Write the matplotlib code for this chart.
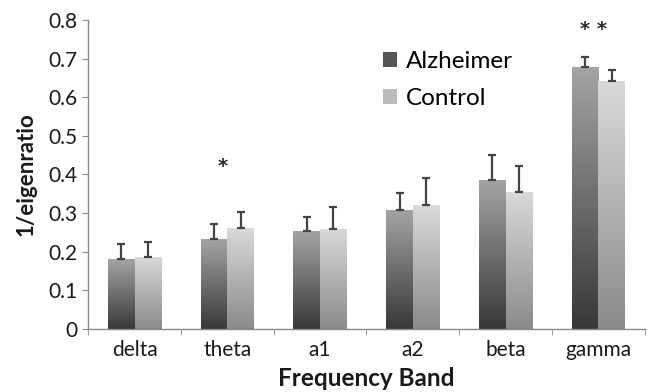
import numpy as np
import matplotlib
matplotlib.use("Agg")
import matplotlib.pyplot as plt
from matplotlib.colors import LinearSegmentedColormap
from matplotlib.ticker import FixedLocator
from matplotlib.patches import Patch

plt.rcParams['font.family'] = ['Lato', 'DejaVu Sans']

bands = ['delta', 'theta', 'a1', 'a2', 'beta', 'gamma']
alz_mean = [0.180, 0.233, 0.253, 0.308, 0.385, 0.677]
alz_err = [0.039, 0.038, 0.037, 0.044, 0.066, 0.026]
ctl_mean = [0.187, 0.261, 0.259, 0.321, 0.355, 0.643]
ctl_err = [0.038, 0.043, 0.057, 0.069, 0.066, 0.028]
star_idx = [1, 5]
star_txt = ['*', '* *']
star_y = [0.42, 0.775]

fig = plt.figure(figsize=(6.48, 3.92), dpi=100)
ax = fig.add_axes([0.136, 0.161, 0.859, 0.788])

x = np.arange(len(bands))
w = 0.287

alz_cmap = LinearSegmentedColormap.from_list('alz', ['#383838', '#a4a4a4'])
ctl_cmap = LinearSegmentedColormap.from_list('ctl', ['#8a8a8a', '#dadada'])
grad = np.linspace(0, 1, 256).reshape(-1, 1)

def gradient_bars(pos, vals, errs, cmap, label):
    bars = ax.bar(pos, vals, w, color='none', edgecolor='none', label=label)
    for b in bars:
        x0 = b.get_x()
        im = ax.imshow(grad, cmap=cmap, origin='lower', aspect='auto',
                       extent=[x0, x0 + b.get_width(), 0, b.get_height()], zorder=2)
        im.set_clip_path(b)
    ax.errorbar(pos, vals, yerr=[np.zeros(len(vals)), errs], fmt='none',
                ecolor='#444444', elinewidth=1.6, capsize=3, capthick=1.6, zorder=3)
    return bars

gradient_bars(x - w / 2, alz_mean, alz_err, alz_cmap, 'Alzheimer')
gradient_bars(x + w / 2, ctl_mean, ctl_err, ctl_cmap, 'Control')

# significance stars
for i, s, yy in zip(star_idx, star_txt, star_y):
    ax.text(x[i] - 0.05, yy, s, ha='center', va='center', fontsize=14,
            fontweight='bold', color='#2a2a2a', family='DejaVu Sans')

ax.set_xlim(-0.5, len(bands) - 0.5)
ax.set_ylim(0, 0.8)
ax.set_yticks(np.arange(0, 0.81, 0.1))
ax.set_yticklabels(['0'] + ['%.1f' % v for v in np.arange(0.1, 0.81, 0.1)])
ax.set_xticks(x)
ax.set_xticklabels(bands)
ax.xaxis.set_minor_locator(FixedLocator(np.arange(-0.5, len(bands), 1.0)))
ax.tick_params(axis='x', which='major', length=0, pad=8, labelsize=15, labelcolor='#1a1a1a')
ax.tick_params(axis='x', which='minor', length=4, color='#888888', direction='out')
ax.tick_params(axis='y', length=4, color='#888888', labelsize=15, labelcolor='#1a1a1a', pad=4)

for sp in ['top', 'right']:
    ax.spines[sp].set_visible(False)
for sp in ['left', 'bottom']:
    ax.spines[sp].set_color('#888888')
    ax.spines[sp].set_linewidth(1.0)

ax.set_xlabel('Frequency Band', fontsize=17.5, fontweight='bold', labelpad=5, color='#1a1a1a')
ax.set_ylabel('1/eigenratio', fontsize=16, fontweight='bold', labelpad=8, color='#1a1a1a')

handles = [Patch(facecolor='#555555'), Patch(facecolor='#bbbbbb')]
ax.legend(handles, ['Alzheimer', 'Control'], loc='upper left',
          bbox_to_anchor=(0.49, 0.97), frameon=False, fontsize=17.5,
          handlelength=0.6, handleheight=0.6, handletextpad=0.35, labelspacing=0.65)

fig.savefig('out.png', dpi=100)
